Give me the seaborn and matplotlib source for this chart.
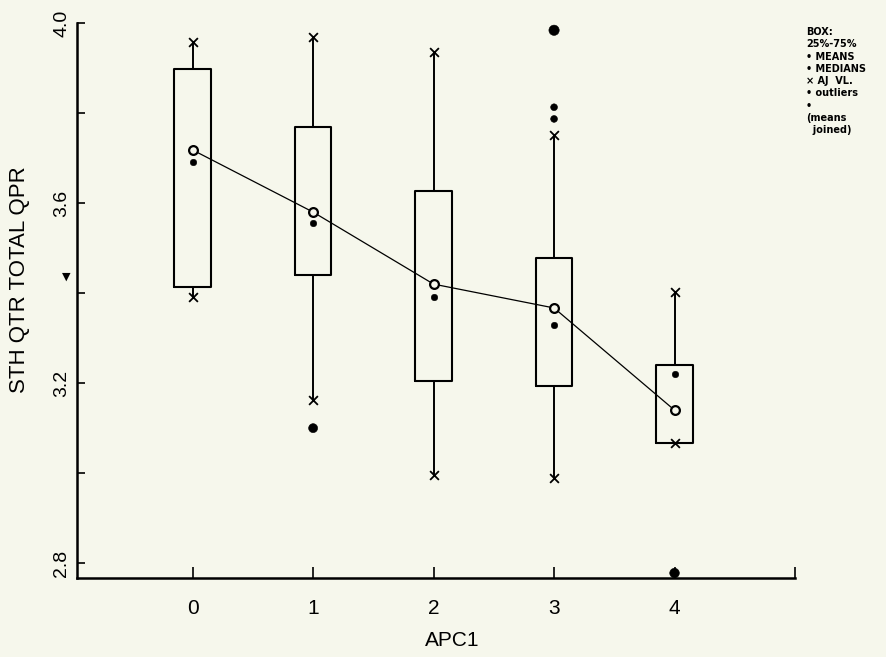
import matplotlib
matplotlib.use("Agg")
import matplotlib.pyplot as plt
import seaborn as sns
import pandas as pd

# ---- data ----
groups = [0, 1, 2, 3, 4]
q1 = [3.413, 3.440, 3.204, 3.193, 3.067]
q3 = [3.898, 3.769, 3.627, 3.478, 3.240]
whislo = [3.391, 3.162, 2.996, 2.989, 3.067]
whishi = [3.958, 3.969, 3.936, 3.751, 3.402]
medians = [3.691, 3.556, 3.391, 3.329, 3.220]
means = [3.718, 3.580, 3.420, 3.367, 3.140]
outlier_x = [1, 3, 3, 3, 4]
outlier_y = [3.100, 3.984, 3.813, 3.787, 2.778]

ytick_vals = [2.8, 3.0, 3.2, 3.4, 3.6, 3.8, 4.0]
ytick_labels = ["2.8", "", "3.2", "", "3.6", "", "4.0"]
xtick_vals = [0, 1, 2, 3, 4, 5]
xtick_labels = ["0", "1", "2", "3", "4", ""]
legend_lines = ["BOX:", "25%-75%", "\u2022 MEANS", "\u2022 MEDIANS", "\u00d7 AJ  VL.",
                "\u2022 outliers", "\u2022", "(means", "  joined)"]

# ---- style ----
bg = "#f6f7ec"
outlier_sizes = [42, 55, 24, 24, 48]
sns.set_theme(style="ticks")
plt.rcParams["font.family"] = ["Liberation Sans", "DejaVu Sans"]

fig = plt.figure(figsize=(8.86, 6.57), dpi=100, facecolor=bg)
ax = fig.add_axes([0.0869, 0.1202, 0.8104, 0.8447])
ax.set_facecolor(bg)

stats = [dict(med=m, q1=a, q3=b, whislo=lo, whishi=hi, fliers=[])
         for m, a, b, lo, hi in zip(medians, q1, q3, whislo, whishi)]
ax.bxp(stats, positions=groups, widths=0.305, showcaps=False, showfliers=False,
       patch_artist=False,
       boxprops=dict(color="black", linewidth=1.5),
       whiskerprops=dict(color="black", linewidth=1.4),
       medianprops=dict(linewidth=0),
       manage_ticks=False)

df_means = pd.DataFrame({"g": groups, "mean": means, "median": medians})
sns.lineplot(data=df_means, x="g", y="mean", ax=ax, color="black", linewidth=0.9,
             zorder=3, sort=False)

# whisker ends (x markers)
df_wh = pd.DataFrame({"g": groups + groups, "v": whislo + whishi})
sns.scatterplot(data=df_wh, x="g", y="v", ax=ax, marker="x", s=40, color="black",
                linewidth=1.3, zorder=5, legend=False)

# medians (filled dots)
sns.scatterplot(data=df_means, x="g", y="median", ax=ax, marker="o", s=22,
                color="black", edgecolor="black", zorder=5, legend=False)

# means (open circles)
sns.scatterplot(data=df_means, x="g", y="mean", ax=ax, marker="o", s=40,
                facecolor=bg, edgecolor="black", linewidth=1.6, zorder=6, legend=False)

# outliers
df_out = pd.DataFrame({"g": outlier_x, "v": outlier_y, "sz": outlier_sizes})
sns.scatterplot(data=df_out, x="g", y="v", ax=ax, marker="o", s=df_out["sz"].values,
                color="black", edgecolor="black", zorder=5, legend=False, clip_on=False)

# ---- axes ----
ax.set_xlim(-0.96, 5.0)
ax.set_ylim(2.767, 4.0)
for s in ["top", "right"]:
    ax.spines[s].set_visible(False)
for s in ["left", "bottom"]:
    ax.spines[s].set_linewidth(1.8)
    ax.spines[s].set_color("black")

ax.set_yticks(ytick_vals)
ax.set_yticklabels(ytick_labels, rotation=90, va="center", fontsize=14)
ax.set_xticks(xtick_vals)
ax.set_xticklabels(xtick_labels, fontsize=15)
ax.tick_params(axis="y", direction="in", length=6, width=1.2, pad=5, colors="black")
ax.tick_params(axis="x", direction="in", length=8, width=1.2, pad=15, colors="black")

ax.set_xlabel("APC1", fontsize=15, color="black")
ax.xaxis.set_label_coords(0.522, -0.095)
ax.set_ylabel("STH QTR TOTAL QPR", fontsize=16, color="black")
ax.yaxis.set_label_coords(-0.065, 0.537)

# stray marker left of the y axis
fig.text(66 / 886, 1 - 277 / 657, "\u25bc", fontsize=8, ha="center", va="center",
         family=["DejaVu Sans"], color="black")

# legend text block
y0 = 32
for i, line in enumerate(legend_lines):
    fig.text(806 / 886, 1 - (y0 + i * 12.3) / 657, line, fontsize=7, fontweight="bold",
             ha="left", va="center", family=["DejaVu Sans"], color="black")

fig.savefig("out.png", dpi=100, facecolor=bg)
